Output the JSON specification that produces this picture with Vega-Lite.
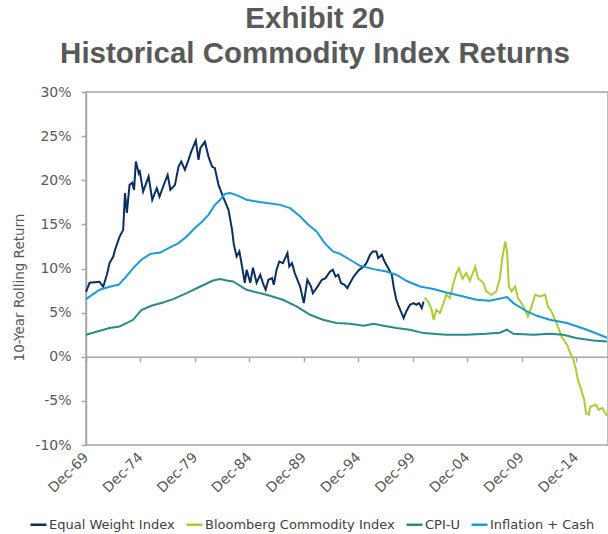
{
  "$schema": "https://vega.github.io/schema/vega-lite/v6.json",
  "width": 522,
  "height": 353,
  "autosize": {"type": "none"},
  "padding": {"left": 86, "top": 92, "right": 0, "bottom": 89},
  "background": "white",
  "config": {
    "view": {"stroke": "#a6a6a6", "strokeWidth": 1.5},
    "font": "DejaVu Sans",
    "axis": {
      "grid": false,
      "labelColor": "#595959",
      "titleColor": "#595959",
      "domainColor": "#a6a6a6",
      "tickColor": "#a6a6a6",
      "domainWidth": 1.5,
      "tickWidth": 1.5,
      "labelFontSize": 14,
      "titleFontSize": 13.5,
      "titleFontWeight": "normal"
    }
  },
  "title": {
    "text": ["Exhibit 20", "Historical Commodity Index Returns"],
    "font": "Liberation Sans",
    "fontSize": 29.5,
    "fontWeight": "bold",
    "color": "#595959",
    "anchor": "middle",
    "frame": "group",
    "dx": -32,
    "offset": 16,
    "lineHeight": 35
  },
  "data": {
    "values": [
      {"series": "Equal Weight Index", "date": "1969-12-01", "value": 0.0736},
      {"series": "Equal Weight Index", "date": "1970-04-01", "value": 0.0838},
      {"series": "Equal Weight Index", "date": "1971-03-01", "value": 0.0849},
      {"series": "Equal Weight Index", "date": "1971-07-01", "value": 0.0793},
      {"series": "Equal Weight Index", "date": "1971-11-01", "value": 0.0929},
      {"series": "Equal Weight Index", "date": "1972-02-01", "value": 0.1065},
      {"series": "Equal Weight Index", "date": "1972-06-01", "value": 0.1133},
      {"series": "Equal Weight Index", "date": "1972-08-01", "value": 0.1212},
      {"series": "Equal Weight Index", "date": "1973-01-01", "value": 0.1362},
      {"series": "Equal Weight Index", "date": "1973-05-01", "value": 0.1438},
      {"series": "Equal Weight Index", "date": "1973-07-01", "value": 0.1854},
      {"series": "Equal Weight Index", "date": "1973-09-01", "value": 0.1631},
      {"series": "Equal Weight Index", "date": "1973-12-01", "value": 0.1948},
      {"series": "Equal Weight Index", "date": "1974-03-01", "value": 0.1971},
      {"series": "Equal Weight Index", "date": "1974-05-01", "value": 0.1891},
      {"series": "Equal Weight Index", "date": "1974-07-01", "value": 0.2212},
      {"series": "Equal Weight Index", "date": "1974-10-01", "value": 0.2084},
      {"series": "Equal Weight Index", "date": "1974-11-01", "value": 0.2118},
      {"series": "Equal Weight Index", "date": "1975-03-01", "value": 0.1872},
      {"series": "Equal Weight Index", "date": "1975-09-01", "value": 0.2042},
      {"series": "Equal Weight Index", "date": "1976-01-01", "value": 0.1778},
      {"series": "Equal Weight Index", "date": "1976-06-01", "value": 0.191},
      {"series": "Equal Weight Index", "date": "1976-09-01", "value": 0.1815},
      {"series": "Equal Weight Index", "date": "1977-01-01", "value": 0.1929},
      {"series": "Equal Weight Index", "date": "1977-06-01", "value": 0.2061},
      {"series": "Equal Weight Index", "date": "1977-09-01", "value": 0.1891},
      {"series": "Equal Weight Index", "date": "1978-02-01", "value": 0.1948},
      {"series": "Equal Weight Index", "date": "1978-06-01", "value": 0.2155},
      {"series": "Equal Weight Index", "date": "1978-09-01", "value": 0.2212},
      {"series": "Equal Weight Index", "date": "1979-01-01", "value": 0.2118},
      {"series": "Equal Weight Index", "date": "1979-05-01", "value": 0.2231},
      {"series": "Equal Weight Index", "date": "1979-08-01", "value": 0.2325},
      {"series": "Equal Weight Index", "date": "1980-01-01", "value": 0.245},
      {"series": "Equal Weight Index", "date": "1980-04-01", "value": 0.2231},
      {"series": "Equal Weight Index", "date": "1980-06-01", "value": 0.2363},
      {"series": "Equal Weight Index", "date": "1980-11-01", "value": 0.2438},
      {"series": "Equal Weight Index", "date": "1981-03-01", "value": 0.2268},
      {"series": "Equal Weight Index", "date": "1981-07-01", "value": 0.2155},
      {"series": "Equal Weight Index", "date": "1981-10-01", "value": 0.2137},
      {"series": "Equal Weight Index", "date": "1982-02-01", "value": 0.1948},
      {"series": "Equal Weight Index", "date": "1982-07-01", "value": 0.1815},
      {"series": "Equal Weight Index", "date": "1983-01-01", "value": 0.1665},
      {"series": "Equal Weight Index", "date": "1983-05-01", "value": 0.1438},
      {"series": "Equal Weight Index", "date": "1983-07-01", "value": 0.1268},
      {"series": "Equal Weight Index", "date": "1983-10-01", "value": 0.1136},
      {"series": "Equal Weight Index", "date": "1984-01-01", "value": 0.1193},
      {"series": "Equal Weight Index", "date": "1984-04-01", "value": 0.1023},
      {"series": "Equal Weight Index", "date": "1984-07-01", "value": 0.0838},
      {"series": "Equal Weight Index", "date": "1984-09-01", "value": 0.0985},
      {"series": "Equal Weight Index", "date": "1985-01-01", "value": 0.0838},
      {"series": "Equal Weight Index", "date": "1985-04-01", "value": 0.1008},
      {"series": "Equal Weight Index", "date": "1985-08-01", "value": 0.0838},
      {"series": "Equal Weight Index", "date": "1985-12-01", "value": 0.0929},
      {"series": "Equal Weight Index", "date": "1986-03-01", "value": 0.0835},
      {"series": "Equal Weight Index", "date": "1986-06-01", "value": 0.0759},
      {"series": "Equal Weight Index", "date": "1986-09-01", "value": 0.0872},
      {"series": "Equal Weight Index", "date": "1987-01-01", "value": 0.0891},
      {"series": "Equal Weight Index", "date": "1987-03-01", "value": 0.0815},
      {"series": "Equal Weight Index", "date": "1987-06-01", "value": 0.0985},
      {"series": "Equal Weight Index", "date": "1987-09-01", "value": 0.1079},
      {"series": "Equal Weight Index", "date": "1988-01-01", "value": 0.1061},
      {"series": "Equal Weight Index", "date": "1988-06-01", "value": 0.1174},
      {"series": "Equal Weight Index", "date": "1988-08-01", "value": 0.1023},
      {"series": "Equal Weight Index", "date": "1988-11-01", "value": 0.1061},
      {"series": "Equal Weight Index", "date": "1989-02-01", "value": 0.0948},
      {"series": "Equal Weight Index", "date": "1989-08-01", "value": 0.0796},
      {"series": "Equal Weight Index", "date": "1989-12-01", "value": 0.0608},
      {"series": "Equal Weight Index", "date": "1990-04-01", "value": 0.0872},
      {"series": "Equal Weight Index", "date": "1990-08-01", "value": 0.0796},
      {"series": "Equal Weight Index", "date": "1990-10-01", "value": 0.0721},
      {"series": "Equal Weight Index", "date": "1991-02-01", "value": 0.0778},
      {"series": "Equal Weight Index", "date": "1991-08-01", "value": 0.0872},
      {"series": "Equal Weight Index", "date": "1991-12-01", "value": 0.0891},
      {"series": "Equal Weight Index", "date": "1992-05-01", "value": 0.0966},
      {"series": "Equal Weight Index", "date": "1992-08-01", "value": 0.0985},
      {"series": "Equal Weight Index", "date": "1992-11-01", "value": 0.0909},
      {"series": "Equal Weight Index", "date": "1993-02-01", "value": 0.0929},
      {"series": "Equal Weight Index", "date": "1993-05-01", "value": 0.0835},
      {"series": "Equal Weight Index", "date": "1993-09-01", "value": 0.0815},
      {"series": "Equal Weight Index", "date": "1993-12-01", "value": 0.0778},
      {"series": "Equal Weight Index", "date": "1994-03-01", "value": 0.0835},
      {"series": "Equal Weight Index", "date": "1994-07-01", "value": 0.0909},
      {"series": "Equal Weight Index", "date": "1994-10-01", "value": 0.0948},
      {"series": "Equal Weight Index", "date": "1995-01-01", "value": 0.0985},
      {"series": "Equal Weight Index", "date": "1995-06-01", "value": 0.1023},
      {"series": "Equal Weight Index", "date": "1995-09-01", "value": 0.1061},
      {"series": "Equal Weight Index", "date": "1996-01-01", "value": 0.1155},
      {"series": "Equal Weight Index", "date": "1996-04-01", "value": 0.1193},
      {"series": "Equal Weight Index", "date": "1996-08-01", "value": 0.1193},
      {"series": "Equal Weight Index", "date": "1996-10-01", "value": 0.1118},
      {"series": "Equal Weight Index", "date": "1997-02-01", "value": 0.1155},
      {"series": "Equal Weight Index", "date": "1997-05-01", "value": 0.1079},
      {"series": "Equal Weight Index", "date": "1997-09-01", "value": 0.1005},
      {"series": "Equal Weight Index", "date": "1998-01-01", "value": 0.0929},
      {"series": "Equal Weight Index", "date": "1998-03-01", "value": 0.0796},
      {"series": "Equal Weight Index", "date": "1998-06-01", "value": 0.0646},
      {"series": "Equal Weight Index", "date": "1998-08-01", "value": 0.0589},
      {"series": "Equal Weight Index", "date": "1998-11-01", "value": 0.0513},
      {"series": "Equal Weight Index", "date": "1999-02-01", "value": 0.0438},
      {"series": "Equal Weight Index", "date": "1999-05-01", "value": 0.0513},
      {"series": "Equal Weight Index", "date": "1999-09-01", "value": 0.0589},
      {"series": "Equal Weight Index", "date": "2000-01-01", "value": 0.0608},
      {"series": "Equal Weight Index", "date": "2000-04-01", "value": 0.0589},
      {"series": "Equal Weight Index", "date": "2000-07-01", "value": 0.0608},
      {"series": "Equal Weight Index", "date": "2000-10-01", "value": 0.0552},
      {"series": "Equal Weight Index", "date": "2000-12-01", "value": 0.0626},

      {"series": "Bloomberg Commodity Index", "date": "2001-01-01", "value": 0.0668},
      {"series": "Bloomberg Commodity Index", "date": "2001-05-01", "value": 0.0626},
      {"series": "Bloomberg Commodity Index", "date": "2001-09-01", "value": 0.0532},
      {"series": "Bloomberg Commodity Index", "date": "2001-11-01", "value": 0.0419},
      {"series": "Bloomberg Commodity Index", "date": "2002-02-01", "value": 0.0532},
      {"series": "Bloomberg Commodity Index", "date": "2002-06-01", "value": 0.0495},
      {"series": "Bloomberg Commodity Index", "date": "2002-10-01", "value": 0.0608},
      {"series": "Bloomberg Commodity Index", "date": "2003-01-01", "value": 0.0702},
      {"series": "Bloomberg Commodity Index", "date": "2003-05-01", "value": 0.0665},
      {"series": "Bloomberg Commodity Index", "date": "2003-09-01", "value": 0.0835},
      {"series": "Bloomberg Commodity Index", "date": "2003-12-01", "value": 0.094},
      {"series": "Bloomberg Commodity Index", "date": "2004-03-01", "value": 0.1005},
      {"series": "Bloomberg Commodity Index", "date": "2004-07-01", "value": 0.0883},
      {"series": "Bloomberg Commodity Index", "date": "2004-11-01", "value": 0.0948},
      {"series": "Bloomberg Commodity Index", "date": "2005-03-01", "value": 0.0861},
      {"series": "Bloomberg Commodity Index", "date": "2005-09-01", "value": 0.1019},
      {"series": "Bloomberg Commodity Index", "date": "2005-12-01", "value": 0.0891},
      {"series": "Bloomberg Commodity Index", "date": "2006-06-01", "value": 0.0835},
      {"series": "Bloomberg Commodity Index", "date": "2006-09-01", "value": 0.074},
      {"series": "Bloomberg Commodity Index", "date": "2007-03-01", "value": 0.0702},
      {"series": "Bloomberg Commodity Index", "date": "2007-08-01", "value": 0.074},
      {"series": "Bloomberg Commodity Index", "date": "2007-12-01", "value": 0.0883},
      {"series": "Bloomberg Commodity Index", "date": "2008-03-01", "value": 0.1133},
      {"series": "Bloomberg Commodity Index", "date": "2008-06-01", "value": 0.1306},
      {"series": "Bloomberg Commodity Index", "date": "2008-08-01", "value": 0.1193},
      {"series": "Bloomberg Commodity Index", "date": "2008-10-01", "value": 0.0796},
      {"series": "Bloomberg Commodity Index", "date": "2009-01-01", "value": 0.074},
      {"series": "Bloomberg Commodity Index", "date": "2009-05-01", "value": 0.0796},
      {"series": "Bloomberg Commodity Index", "date": "2009-08-01", "value": 0.0665},
      {"series": "Bloomberg Commodity Index", "date": "2009-12-01", "value": 0.0608},
      {"series": "Bloomberg Commodity Index", "date": "2010-04-01", "value": 0.0532},
      {"series": "Bloomberg Commodity Index", "date": "2010-07-01", "value": 0.0456},
      {"series": "Bloomberg Commodity Index", "date": "2010-11-01", "value": 0.057},
      {"series": "Bloomberg Commodity Index", "date": "2011-03-01", "value": 0.0702},
      {"series": "Bloomberg Commodity Index", "date": "2011-08-01", "value": 0.0683},
      {"series": "Bloomberg Commodity Index", "date": "2012-02-01", "value": 0.0702},
      {"series": "Bloomberg Commodity Index", "date": "2012-05-01", "value": 0.057},
      {"series": "Bloomberg Commodity Index", "date": "2012-09-01", "value": 0.0513},
      {"series": "Bloomberg Commodity Index", "date": "2013-01-01", "value": 0.0419},
      {"series": "Bloomberg Commodity Index", "date": "2013-04-01", "value": 0.0343},
      {"series": "Bloomberg Commodity Index", "date": "2013-08-01", "value": 0.023},
      {"series": "Bloomberg Commodity Index", "date": "2014-02-01", "value": 0.0136},
      {"series": "Bloomberg Commodity Index", "date": "2014-05-01", "value": 0.006},
      {"series": "Bloomberg Commodity Index", "date": "2014-09-01", "value": -0.0034},
      {"series": "Bloomberg Commodity Index", "date": "2014-12-01", "value": -0.0147},
      {"series": "Bloomberg Commodity Index", "date": "2015-02-01", "value": -0.026},
      {"series": "Bloomberg Commodity Index", "date": "2015-05-01", "value": -0.035},
      {"series": "Bloomberg Commodity Index", "date": "2015-09-01", "value": -0.0487},
      {"series": "Bloomberg Commodity Index", "date": "2015-11-01", "value": -0.0638},
      {"series": "Bloomberg Commodity Index", "date": "2016-02-01", "value": -0.0657},
      {"series": "Bloomberg Commodity Index", "date": "2016-04-01", "value": -0.0563},
      {"series": "Bloomberg Commodity Index", "date": "2016-10-01", "value": -0.0544},
      {"series": "Bloomberg Commodity Index", "date": "2017-01-01", "value": -0.06},
      {"series": "Bloomberg Commodity Index", "date": "2017-05-01", "value": -0.0581},
      {"series": "Bloomberg Commodity Index", "date": "2017-10-01", "value": -0.0668},

      {"series": "CPI-U", "date": "1969-12-01", "value": 0.0249},
      {"series": "CPI-U", "date": "1972-02-01", "value": 0.0325},
      {"series": "CPI-U", "date": "1973-01-01", "value": 0.0343},
      {"series": "CPI-U", "date": "1974-04-01", "value": 0.0419},
      {"series": "CPI-U", "date": "1975-01-01", "value": 0.0529},
      {"series": "CPI-U", "date": "1975-12-01", "value": 0.0578},
      {"series": "CPI-U", "date": "1977-01-01", "value": 0.0615},
      {"series": "CPI-U", "date": "1977-12-01", "value": 0.0653},
      {"series": "CPI-U", "date": "1979-03-01", "value": 0.0721},
      {"series": "CPI-U", "date": "1980-06-01", "value": 0.0796},
      {"series": "CPI-U", "date": "1981-08-01", "value": 0.0864},
      {"series": "CPI-U", "date": "1982-04-01", "value": 0.088},
      {"series": "CPI-U", "date": "1982-11-01", "value": 0.0864},
      {"series": "CPI-U", "date": "1983-06-01", "value": 0.0853},
      {"series": "CPI-U", "date": "1984-09-01", "value": 0.0759},
      {"series": "CPI-U", "date": "1985-04-01", "value": 0.074},
      {"series": "CPI-U", "date": "1986-07-01", "value": 0.0702},
      {"series": "CPI-U", "date": "1988-01-01", "value": 0.0646},
      {"series": "CPI-U", "date": "1989-04-01", "value": 0.057},
      {"series": "CPI-U", "date": "1990-07-01", "value": 0.0476},
      {"series": "CPI-U", "date": "1991-09-01", "value": 0.0419},
      {"series": "CPI-U", "date": "1992-12-01", "value": 0.0382},
      {"series": "CPI-U", "date": "1994-03-01", "value": 0.0374},
      {"series": "CPI-U", "date": "1995-06-01", "value": 0.0351},
      {"series": "CPI-U", "date": "1996-05-01", "value": 0.0374},
      {"series": "CPI-U", "date": "1997-04-01", "value": 0.0351},
      {"series": "CPI-U", "date": "1998-06-01", "value": 0.0325},
      {"series": "CPI-U", "date": "1999-09-01", "value": 0.0306},
      {"series": "CPI-U", "date": "2000-12-01", "value": 0.0268},
      {"series": "CPI-U", "date": "2003-01-01", "value": 0.0249},
      {"series": "CPI-U", "date": "2004-11-01", "value": 0.0249},
      {"series": "CPI-U", "date": "2006-09-01", "value": 0.026},
      {"series": "CPI-U", "date": "2007-12-01", "value": 0.0272},
      {"series": "CPI-U", "date": "2008-08-01", "value": 0.0306},
      {"series": "CPI-U", "date": "2009-03-01", "value": 0.026},
      {"series": "CPI-U", "date": "2011-01-01", "value": 0.0249},
      {"series": "CPI-U", "date": "2012-07-01", "value": 0.026},
      {"series": "CPI-U", "date": "2013-10-01", "value": 0.0249},
      {"series": "CPI-U", "date": "2014-12-01", "value": 0.0212},
      {"series": "CPI-U", "date": "2016-07-01", "value": 0.0185},
      {"series": "CPI-U", "date": "2017-10-01", "value": 0.0173},

      {"series": "Inflation + Cash", "date": "1969-12-01", "value": 0.0653},
      {"series": "Inflation + Cash", "date": "1971-03-01", "value": 0.0759},
      {"series": "Inflation + Cash", "date": "1972-06-01", "value": 0.0804},
      {"series": "Inflation + Cash", "date": "1972-12-01", "value": 0.0815},
      {"series": "Inflation + Cash", "date": "1973-05-01", "value": 0.0872},
      {"series": "Inflation + Cash", "date": "1973-07-01", "value": 0.0891},
      {"series": "Inflation + Cash", "date": "1974-04-01", "value": 0.1005},
      {"series": "Inflation + Cash", "date": "1975-01-01", "value": 0.1099},
      {"series": "Inflation + Cash", "date": "1975-11-01", "value": 0.1166},
      {"series": "Inflation + Cash", "date": "1976-10-01", "value": 0.1181},
      {"series": "Inflation + Cash", "date": "1977-07-01", "value": 0.1231},
      {"series": "Inflation + Cash", "date": "1978-06-01", "value": 0.1288},
      {"series": "Inflation + Cash", "date": "1979-03-01", "value": 0.1362},
      {"series": "Inflation + Cash", "date": "1979-12-01", "value": 0.1458},
      {"series": "Inflation + Cash", "date": "1980-07-01", "value": 0.1521},
      {"series": "Inflation + Cash", "date": "1981-03-01", "value": 0.1608},
      {"series": "Inflation + Cash", "date": "1981-10-01", "value": 0.1721},
      {"series": "Inflation + Cash", "date": "1982-04-01", "value": 0.1778},
      {"series": "Inflation + Cash", "date": "1982-09-01", "value": 0.1846},
      {"series": "Inflation + Cash", "date": "1983-03-01", "value": 0.1854},
      {"series": "Inflation + Cash", "date": "1983-12-01", "value": 0.1823},
      {"series": "Inflation + Cash", "date": "1984-09-01", "value": 0.1778},
      {"series": "Inflation + Cash", "date": "1985-08-01", "value": 0.1759},
      {"series": "Inflation + Cash", "date": "1986-03-01", "value": 0.1747},
      {"series": "Inflation + Cash", "date": "1987-10-01", "value": 0.1721},
      {"series": "Inflation + Cash", "date": "1988-09-01", "value": 0.1684},
      {"series": "Inflation + Cash", "date": "1989-08-01", "value": 0.1589},
      {"series": "Inflation + Cash", "date": "1990-05-01", "value": 0.1495},
      {"series": "Inflation + Cash", "date": "1991-02-01", "value": 0.1419},
      {"series": "Inflation + Cash", "date": "1991-11-01", "value": 0.1288},
      {"series": "Inflation + Cash", "date": "1992-08-01", "value": 0.1193},
      {"series": "Inflation + Cash", "date": "1993-04-01", "value": 0.1166},
      {"series": "Inflation + Cash", "date": "1994-03-01", "value": 0.1099},
      {"series": "Inflation + Cash", "date": "1995-02-01", "value": 0.1031},
      {"series": "Inflation + Cash", "date": "1996-05-01", "value": 0.0993},
      {"series": "Inflation + Cash", "date": "1997-07-01", "value": 0.0966},
      {"series": "Inflation + Cash", "date": "1998-06-01", "value": 0.0929},
      {"series": "Inflation + Cash", "date": "1999-05-01", "value": 0.0861},
      {"series": "Inflation + Cash", "date": "2000-08-01", "value": 0.0796},
      {"series": "Inflation + Cash", "date": "2001-11-01", "value": 0.0767},
      {"series": "Inflation + Cash", "date": "2003-01-01", "value": 0.0728},
      {"series": "Inflation + Cash", "date": "2004-08-01", "value": 0.0683},
      {"series": "Inflation + Cash", "date": "2005-10-01", "value": 0.0646},
      {"series": "Inflation + Cash", "date": "2007-01-01", "value": 0.0634},
      {"series": "Inflation + Cash", "date": "2008-08-01", "value": 0.0676},
      {"series": "Inflation + Cash", "date": "2009-03-01", "value": 0.0608},
      {"series": "Inflation + Cash", "date": "2010-06-01", "value": 0.0513},
      {"series": "Inflation + Cash", "date": "2011-05-01", "value": 0.0464},
      {"series": "Inflation + Cash", "date": "2012-07-01", "value": 0.0419},
      {"series": "Inflation + Cash", "date": "2014-02-01", "value": 0.0382},
      {"series": "Inflation + Cash", "date": "2015-12-01", "value": 0.0306},
      {"series": "Inflation + Cash", "date": "2017-02-01", "value": 0.0249},
      {"series": "Inflation + Cash", "date": "2017-10-01", "value": 0.0215}
    ]
  },
  "mark": {"type": "line", "strokeWidth": 2},
  "encoding": {
    "x": {
      "field": "date",
      "type": "temporal",
      "scale": {
        "type": "utc",
        "domain": [
          {"year": 1969, "month": 12, "date": 1, "utc": true},
          {"year": 2017, "month": 11, "date": 8, "utc": true}
        ]
      },
      "axis": {
        "title": null,
        "values": [
          {"year": 1969, "month": 12, "date": 1, "utc": true},
          {"year": 1974, "month": 12, "date": 1, "utc": true},
          {"year": 1979, "month": 12, "date": 1, "utc": true},
          {"year": 1984, "month": 12, "date": 1, "utc": true},
          {"year": 1989, "month": 12, "date": 1, "utc": true},
          {"year": 1994, "month": 12, "date": 1, "utc": true},
          {"year": 1999, "month": 12, "date": 1, "utc": true},
          {"year": 2004, "month": 12, "date": 1, "utc": true},
          {"year": 2009, "month": 12, "date": 1, "utc": true},
          {"year": 2014, "month": 12, "date": 1, "utc": true}
        ],
        "format": "%b-%y",
        "labelAngle": -45,
        "labelAlign": "right",
        "labelBaseline": "middle",
        "labelFlush": false,
        "labelOverlap": false,
        "offset": -88.25,
        "tickSize": 5,
        "labelPadding": 93
      }
    },
    "y": {
      "field": "value",
      "type": "quantitative",
      "scale": {"domain": [-0.1, 0.3], "nice": false, "zero": false},
      "axis": {
        "title": "10-Year Rolling Return",
        "values": [-0.1, -0.05, 0, 0.05, 0.1, 0.15, 0.2, 0.25, 0.3],
        "labelExpr": "replace(format(datum.value, '.0%'), '\u2212', '-')",
        "tickSize": 5,
        "labelPadding": 10,
        "titleX": -60,
        "titleY": 195,
        "titleAlign": "center",
        "titleAngle": 270,
        "titleBaseline": "bottom"
      }
    },
    "color": {
      "field": "series",
      "type": "nominal",
      "scale": {
        "domain": ["Equal Weight Index", "Bloomberg Commodity Index", "CPI-U", "Inflation + Cash"],
        "range": ["#0b2f5f", "#a9cd35", "#2a8a84", "#1a9ad8"]
      },
      "legend": {
        "orient": "none",
        "legendX": -57,
        "legendY": 423,
        "direction": "horizontal",
        "title": null,
        "symbolType": "stroke",
        "symbolStrokeWidth": 2.5,
        "symbolSize": 256,
        "labelFontSize": 13,
        "labelLimit": 400,
        "labelColor": "#404040",
        "labelOffset": 1,
        "columnPadding": 6
      }
    }
  }
}
